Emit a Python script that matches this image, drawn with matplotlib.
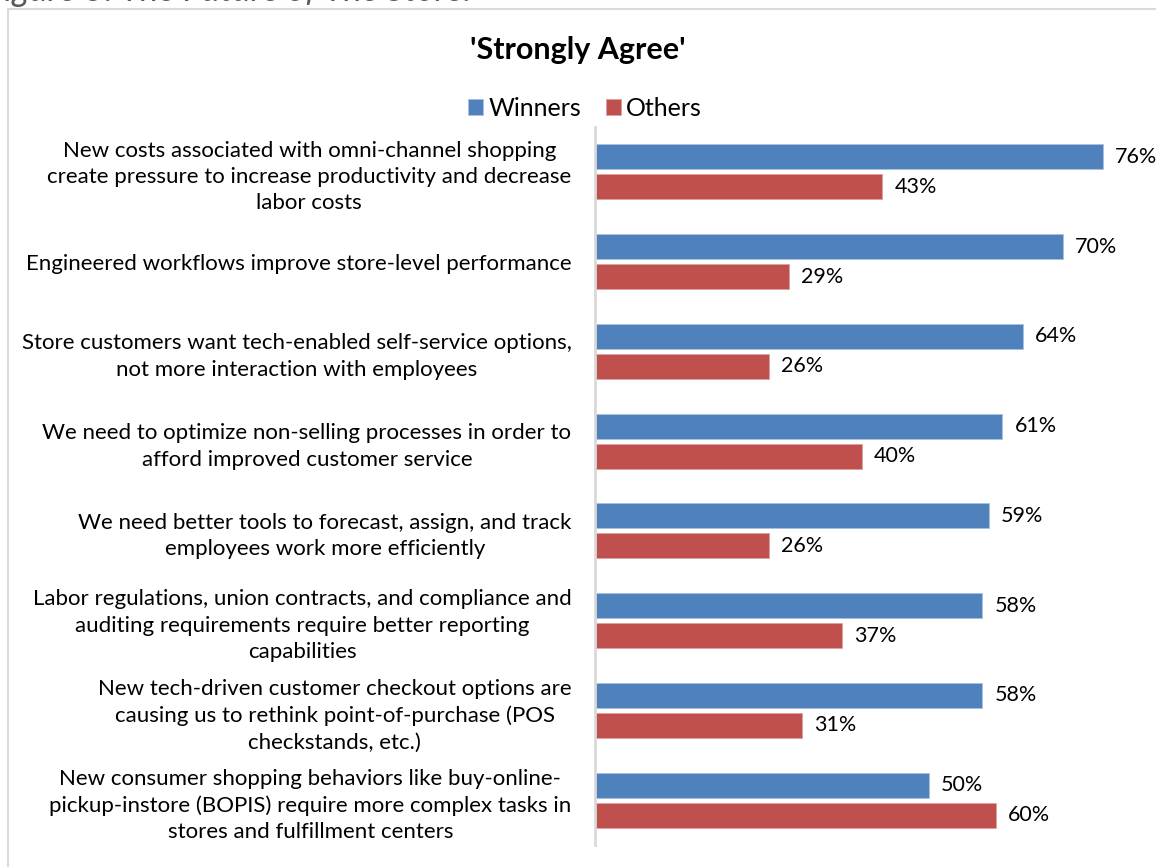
import matplotlib
matplotlib.use("Agg")
import matplotlib.pyplot as plt
from matplotlib.patches import Rectangle

plt.rcParams["font.family"] = ["Lato", "DejaVu Sans"]

statements = [
    "New costs associated with omni-channel shopping\ncreate pressure to increase productivity and decrease\nlabor costs",
    "Engineered workflows improve store-level performance",
    "Store customers want tech-enabled self-service options,\nnot more interaction with employees",
    "We need to optimize non-selling processes in order to\nafford improved customer service",
    "We need better tools to forecast, assign, and track\nemployees work more efficiently",
    "Labor regulations, union contracts, and compliance and\nauditing requirements require better reporting\ncapabilities",
    "New tech-driven customer checkout options are\ncausing us to rethink point-of-purchase (POS\ncheckstands, etc.)",
    "New consumer shopping behaviors like buy-online-\npickup-instore (BOPIS) require more complex tasks in\nstores and fulfillment centers",
]
winners = [76, 70, 64, 61, 59, 58, 58, 50]
others = [43, 29, 26, 40, 26, 37, 31, 60]

BLUE = "#4F81BD"
RED = "#C0504D"
W, H = 1156, 867

fig = plt.figure(figsize=(W / 100, H / 100), dpi=100)

# outer chart frame (runs off the right and bottom edges)
fig.patches.append(Rectangle((7.5 / W, -0.05), 1.1, 1 - 9 / H + 0.05,
                             transform=fig.transFigure, fill=False,
                             edgecolor="#D9D9D9", linewidth=1.5))

# caption sitting above the frame, mostly cut off
fig.text(-14 / W, 1 - 1 / H, "Figure 3: The Future of The Store.",
         fontsize=25, style="italic", color="#595959", va="baseline", ha="left")

ax = fig.add_axes([595 / W, (H - 845) / H, 534.4 / W, 718 / H])

y = list(range(len(statements)))
bh = 0.28
off = 0.167
ax.barh([v - off for v in y], winners, height=bh, color=BLUE,
        edgecolor="#A9C0DE", linewidth=0.6, label="Winners")
ax.barh([v + off for v in y], others, height=bh, color=RED,
        edgecolor="#DDA09E", linewidth=0.6, label="Others")

for i in y:
    ax.text(winners[i] + 1.8, i - off, f"{winners[i]}%", va="center", ha="left", fontsize=15.5)
    ax.text(others[i] + 1.8, i + off, f"{others[i]}%", va="center", ha="left", fontsize=15.5)

ax.set_xlim(0, 80)
ax.set_ylim(7.5, -0.5)
ax.set_xticks([])
ax.set_yticks(y, statements)
ax.tick_params(axis="y", length=0, pad=17)
for lbl in ax.get_yticklabels():
    lbl.set_multialignment("center")
    lbl.set_fontsize(16)
    lbl.set_linespacing(1.4)

for s in ("top", "right", "bottom"):
    ax.spines[s].set_visible(False)
ax.spines["left"].set_color("#D9D9D9")
ax.spines["left"].set_linewidth(2)

fig.text(578 / W, 1 - 50 / H, "'Strongly Agree'", fontsize=22, fontweight="bold",
         ha="center", va="center")

fig.legend(loc="center", bbox_to_anchor=(585 / W, 1 - 108 / H), ncol=2,
           frameon=False, fontsize=18, handlelength=0.6, handleheight=0.6,
           handletextpad=0.2, columnspacing=1.0)

fig.savefig("out.png", dpi=100)
